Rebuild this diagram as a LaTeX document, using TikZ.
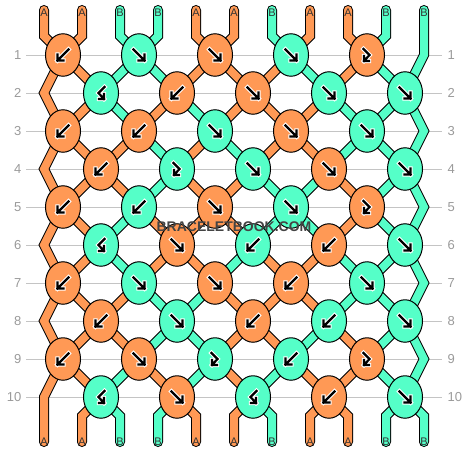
\documentclass[tikz,border=0pt]{standalone}
\usepackage{fontspec}
\setmainfont{Liberation Sans}
\usetikzlibrary{shapes.geometric}
\definecolor{cA}{HTML}{FF9955}
\definecolor{cB}{HTML}{55FFC8}
\definecolor{gridgray}{HTML}{C4C4C4}
\definecolor{labgray}{HTML}{9A9A9A}
\definecolor{tipgray}{HTML}{333333}
\definecolor{wmgray}{HTML}{444444}
\tikzset{
  strandA/.style={draw=black, line width=1pt, double=cA, double distance=8pt, line join=miter},
  strandB/.style={draw=black, line width=1pt, double=cB, double distance=8pt, line join=miter},
  knotA/.style={ellipse, draw=black, line width=1pt, fill=cA, minimum width=35pt, minimum height=42.5pt, inner sep=0pt},
  knotB/.style={ellipse, draw=black, line width=1pt, fill=cB, minimum width=35pt, minimum height=42.5pt, inner sep=0pt},
  symhalo/.style={draw=white, line width=4.4pt, line cap=rect, line join=miter},
  symline/.style={draw=black, line width=2.2pt, line cap=rect, line join=miter},
  rowlab/.style={text=labgray, font=\fontsize{13}{13}\selectfont, inner sep=0pt},
  tiplab/.style={text=tipgray, font=\fontsize{11}{11}\selectfont, inner sep=0pt, anchor=base},
  pics/symL/.style={code={
    \foreach \s in {symhalo,symline}
      \draw[\s] (5.5,-5.5) -- (-5.5,5.5) (-5.5,-0.5) -- (-5.5,5.5) -- (0.5,5.5);
  }},
  pics/symR/.style={code={
    \foreach \s in {symhalo,symline}
      \draw[\s] (-5.5,-5.5) -- (5.5,5.5) (5.5,-0.5) -- (5.5,5.5) -- (-0.5,5.5);
  }},
  pics/symFB/.style={code={
    \foreach \s in {symhalo,symline}
      \draw[\s] (-3.5,-6) -- (2.5,0) -- (-3,6) (-3,1) -- (-3,6) -- (2,6);
  }},
  pics/symBF/.style={code={
    \foreach \s in {symhalo,symline}
      \draw[\s] (3.5,-6) -- (-2.5,0) -- (3,6) (3,1) -- (3,6) -- (-2,6);
  }},
}
\newcommand\segrow[2]{%
  \pgfmathtruncatemacro\nextr{#1+1}%
  \foreach \c [count=\i] in {#2} {%
    \ifnum\i>1 \ifnum\i<11 \draw[strand\c] (p#1-\i) -- (p\nextr-\i); \fi\fi
  }%
}
\newcommand\knotrow[2]{%
  \pgfmathtruncatemacro\oddr{mod(#1,2)}%
  \foreach \c/\t [count=\k] in {#2} {%
    \pgfmathtruncatemacro\kp{2*\k-\oddr}%
    \node[knot\c] (k#1-\k) at (p#1-\kp) {};
    \pic at (k#1-\k) {sym\t};
  }%
}
\begin{document}
\begin{tikzpicture}[x=1pt,y=-1pt]
\useasboundingbox (0,0) rectangle (468,452);
% coordinates of strand positions in each row
\foreach \r in {1,...,10} {
  \foreach \i in {1,...,11} {
    \pgfmathsetmacro\px{mod(\r,2)==1 ? (\i==11 ? 424 : 63+76*floor((\i-1)/2)) : (\i==1 ? 44 : 101+76*floor((\i-2)/2))}
    \coordinate (p\r-\i) at (\px, 17+38*\r);
  }
}
\foreach \i in {1,...,11} {
  \pgfmathsetmacro\tx{44+38*(\i-1)}
  \coordinate (tt\i) at (\tx,10);
  \coordinate (tk\i) at (\tx,36);
  \coordinate (bk\i) at (\tx,416);
  \coordinate (bt\i) at (\tx,442);
}
% row lines and numbers
\foreach \r in {1,...,10} {
  \node[rowlab, anchor=east] (ll\r) at (21.5, 17+38*\r) {\r};
  \node[rowlab, anchor=west] (lr\r) at (447.5, 17+38*\r) {\r};
  \draw[gridgray, line width=0.9pt] (26, 17+38*\r) -- (442, 17+38*\r);
}
% edge strands
\draw[strandA, line cap=round] (tt1) -- (tk1) -- (p1-1) -- (p2-1) -- (p3-1) -- (p4-1) -- (p5-1) -- (p6-1) -- (p7-1) -- (p8-1) -- (p9-1) -- (p10-1) -- (bt1);
\draw[strandB, line cap=round] (tt11) -- (p1-11) -- (p2-11) -- (p3-11) -- (p4-11) -- (p5-11) -- (p6-11) -- (p7-11) -- (p8-11) -- (p9-11) -- (p10-11) -- (bk11) -- (bt11);
% top and bottom ends
\foreach \c [count=\i] in {A,A,B,B,A,A,B,A,A,B,B} {
  \ifnum\i>1 \ifnum\i<11
    \draw[strand\c, line cap=round] (tt\i) -- (tk\i) -- (p1-\i);
    \draw[strand\c, line cap=round] (p10-\i) -- (bk\i) -- (bt\i);
  \fi\fi
}
% strand segments between rows
\segrow{1}{A,A,B,B,A,A,A,B,A,B,B}
\segrow{2}{A,A,B,A,B,A,A,A,B,B,B}
\segrow{3}{A,A,A,B,A,B,A,A,B,B,B}
\segrow{4}{A,A,A,B,A,A,B,B,A,B,B}
\segrow{5}{A,A,B,A,A,A,B,B,A,B,B}
\segrow{6}{A,A,B,A,A,B,A,A,B,B,B}
\segrow{7}{A,A,A,B,B,A,A,A,B,B,B}
\segrow{8}{A,A,A,B,B,A,A,B,A,B,B}
\segrow{9}{A,A,B,A,B,A,B,A,A,B,B}
% knots
\knotrow{1}{A/L,B/R,A/R,B/R,A/FB}
\knotrow{2}{B/BF,A/L,A/R,B/R,B/R}
\knotrow{3}{A/L,A/L,B/R,A/R,B/R}
\knotrow{4}{A/L,B/FB,B/R,A/R,B/R}
\knotrow{5}{A/L,B/L,A/R,B/R,A/FB}
\knotrow{6}{B/BF,A/R,B/L,A/L,B/R}
\knotrow{7}{A/L,B/R,A/R,A/L,B/R}
\knotrow{8}{A/L,B/R,A/L,B/L,B/R}
\knotrow{9}{A/L,A/R,B/FB,B/L,A/FB}
\knotrow{10}{B/BF,A/R,B/BF,A/L,B/R}
% strand letters
\foreach \c [count=\i] in {A,A,B,B,A,A,B,A,A,B,B} {
  \node[tiplab] (ta\i) at ([yshift=-6.7pt]tt\i) {\c};
  \node[tiplab] (tb\i) at ([yshift=-3pt]bt\i) {\c};
}
% watermark
\node[anchor=base, inner sep=0pt, text=wmgray, font=\bfseries\fontsize{14}{14}\selectfont] (wm) at (234, 231.5) {BRACELETBOOK.COM};
\end{tikzpicture}
\end{document}
